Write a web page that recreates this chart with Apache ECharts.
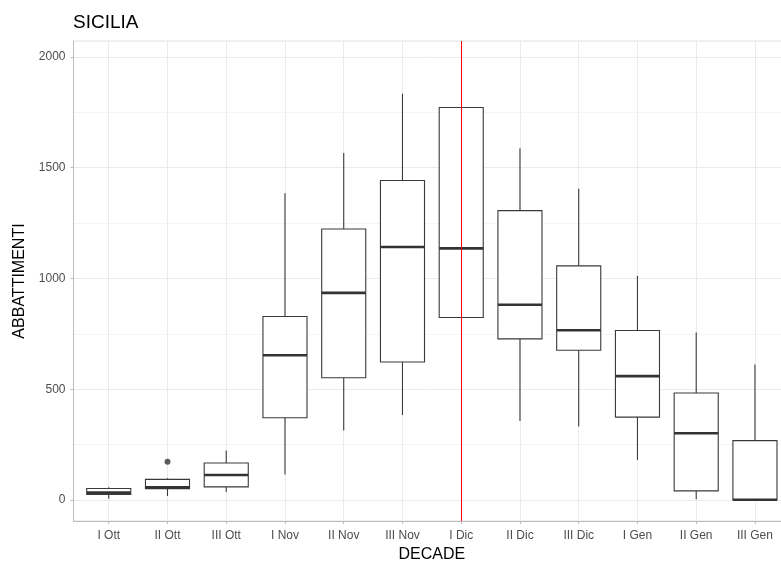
<!DOCTYPE html>
<html>
<head>
<meta charset="utf-8">
<script src="https://cdn.jsdelivr.net/npm/echarts@6/dist/echarts.min.js"></script>
<style>
html,body{margin:0;padding:0;background:#fff;}
#chart{width:781px;height:562px;}
</style>
</head>
<body>
<div id="chart"></div>
<script>
const categories = ['I Ott','II Ott','III Ott','I Nov','II Nov','III Nov','I Dic','II Dic','III Dic','I Gen','II Gen','III Gen'];
const minVals    = [5,   18,  36,  115, 314, 383, 824,  356,  332,  181, 3,   0];
const q1Vals     = [25,  51,  59,  371, 552, 623, 824,  727,  676,  374, 41,  0];
const medianVals = [33,  57,  113, 653, 935, 1142,1136, 881,  766,  559, 301, 1];
const q3Vals     = [52,  93,  167, 828, 1223,1442,1772, 1306, 1057, 765, 483, 268];
const maxVals    = [57,  98,  223, 1385,1566,1834,1772, 1588, 1405, 1012,756, 611];
const outlierCategories = ['II Ott'];
const outlierValues = [173];
const markedCategory = 'I Dic';
const yMajorTicks = [0, 500, 1000, 1500, 2000];
const yMinorTicks = [250, 750, 1250, 1750];

const Y_MIN = -95, Y_MAX = 2072;
const boxData = categories.map((c, i) => [i, minVals[i], q1Vals[i], medianVals[i], q3Vals[i], maxVals[i]]);
const outlierData = outlierCategories.map((c, i) => [categories.indexOf(c), outlierValues[i]]);
const catIdx = categories.map((c, i) => i);

const chart = echarts.init(document.getElementById('chart'), null, {renderer: 'canvas'});
const FONT = '"Liberation Sans", Arial, sans-serif';
const boxStroke = '#3a3a3a';

chart.setOption({
  animation: false,
  backgroundColor: '#ffffff',
  title: {
    text: 'SICILIA', left: 68, top: 8,
    textStyle: {fontFamily: FONT, fontSize: 19, fontWeight: 'normal', color: '#000'}
  },
  grid: {left: 73.5, width: 716.7, top: 41, height: 480, show: true, borderColor: '#e0e0e0', borderWidth: 1, containLabel: false, outerBoundsMode: 'none'},
  xAxis: {
    type: 'value', min: -0.6, max: 11.6,
    name: 'DECADE', nameLocation: 'middle', nameGap: 25,
    nameTextStyle: {fontFamily: FONT, fontSize: 16, color: '#000'},
    axisLine: {show: true, onZero: false, lineStyle: {color: '#bdbdbd', width: 1}},
    axisTick: {show: true, customValues: catIdx, length: 3, lineStyle: {color: '#bdbdbd'}},
    axisLabel: {customValues: catIdx, formatter: v => categories[Math.round(v)] || '', fontFamily: FONT, fontSize: 12, color: '#4d4d4d', margin: 9},
    splitLine: {show: true, lineStyle: {color: '#ebebeb', width: 1}}
  },
  yAxis: [{
    type: 'value', min: Y_MIN, max: Y_MAX,
    name: 'ABBATTIMENTI', nameLocation: 'middle', nameGap: 42,
    nameTextStyle: {fontFamily: FONT, fontSize: 16, color: '#000'},
    axisLine: {show: true, onZero: false, lineStyle: {color: '#bdbdbd', width: 1}},
    axisTick: {show: true, customValues: yMajorTicks, length: 3, lineStyle: {color: '#bdbdbd'}},
    axisLabel: {customValues: yMajorTicks, formatter: v => String(v), fontFamily: FONT, fontSize: 12, color: '#4d4d4d', margin: 8},
    splitLine: {show: true, lineStyle: {color: '#ebebeb', width: 1}}
  }, {
    type: 'value', min: Y_MIN, max: Y_MAX, position: 'left',
    axisLine: {show: false}, axisLabel: {show: false},
    axisTick: {show: false, customValues: yMinorTicks},
    splitLine: {show: true, lineStyle: {color: '#f4f4f4', width: 1}}
  }],
  series: [{
    type: 'custom',
    data: boxData,
    encode: {x: 0, y: [1, 2, 3, 4, 5]},
    z: 3,
    renderItem: function (params, api) {
      const x = api.value(0);
      const lo = api.coord([x, api.value(1)]);
      const q1 = api.coord([x, api.value(2)]);
      const md = api.coord([x, api.value(3)]);
      const q3 = api.coord([x, api.value(4)]);
      const hi = api.coord([x, api.value(5)]);
      const w = api.size([0.75, 0])[0];
      const cx = lo[0];
      const ls = {stroke: boxStroke, lineWidth: 1.1, fill: null};
      return {type: 'group', children: [
        {type: 'line', shape: {x1: cx, y1: hi[1], x2: cx, y2: q3[1]}, style: ls},
        {type: 'line', shape: {x1: cx, y1: q1[1], x2: cx, y2: lo[1]}, style: ls},
        {type: 'rect', shape: {x: cx - w / 2, y: q3[1], width: w, height: q1[1] - q3[1]}, style: {fill: '#ffffff', stroke: boxStroke, lineWidth: 1.1}},
        {type: 'line', shape: {x1: cx - w / 2, y1: md[1], x2: cx + w / 2, y2: md[1]}, style: {stroke: '#333333', lineWidth: 2.6}}
      ]};
    }
  }, {
    type: 'scatter',
    data: outlierData,
    symbol: 'circle', symbolSize: 6,
    itemStyle: {color: '#333333'},
    z: 4
  }, {
    type: 'custom',
    data: [[categories.indexOf(markedCategory), Y_MIN, Y_MAX]],
    encode: {x: 0, y: [1, 2]},
    z: 10,
    silent: true,
    renderItem: function (params, api) {
      const a = api.coord([api.value(0), api.value(1)]);
      const b = api.coord([api.value(0), api.value(2)]);
      const px = Math.floor(a[0]) + 0.5;
      return {type: 'line', shape: {x1: px, y1: a[1], x2: px, y2: b[1]}, style: {stroke: '#ff0000', lineWidth: 1}};
    }
  }]
});
</script>
</body>
</html>
